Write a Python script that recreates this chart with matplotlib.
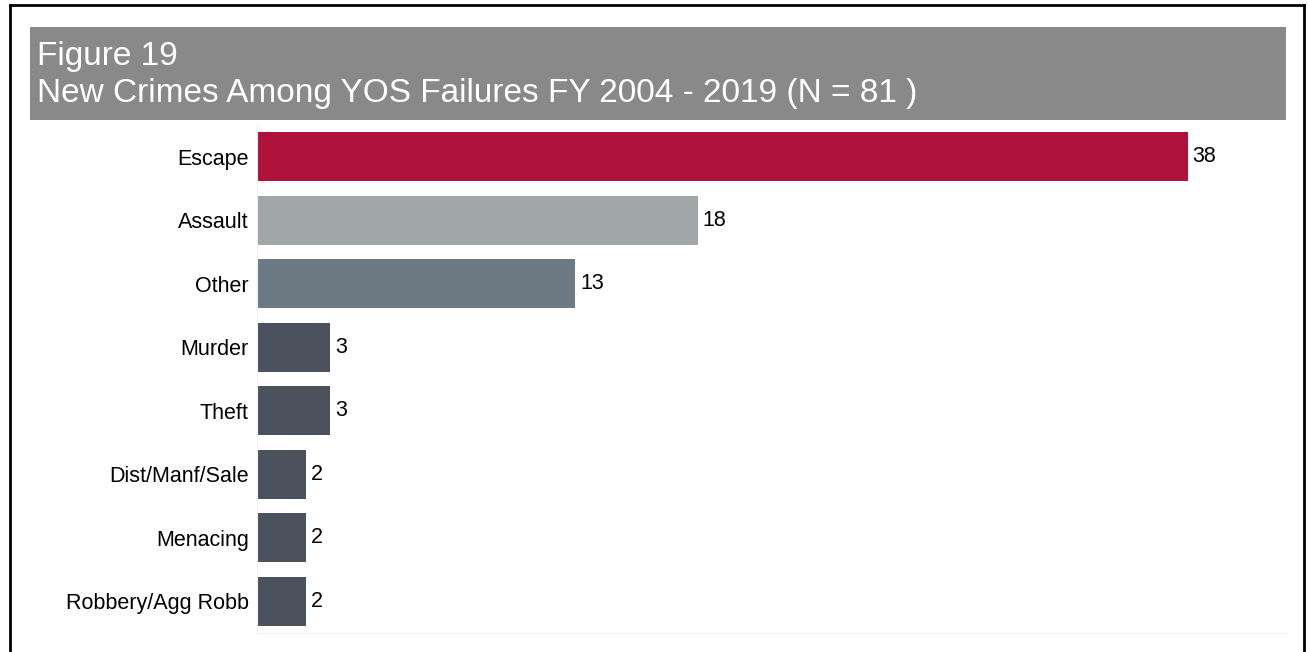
import matplotlib
matplotlib.use("Agg")
import matplotlib.pyplot as plt
from matplotlib.patches import Rectangle
from matplotlib.lines import Line2D

plt.rcParams['font.family'] = ['Liberation Sans', 'DejaVu Sans']

categories = ['Escape', 'Assault', 'Other', 'Murder', 'Theft',
              'Dist/Manf/Sale', 'Menacing', 'Robbery/Agg Robb']
counts = [38, 18, 13, 3, 3, 2, 2, 2]
bar_colors = ['#ae123a', '#a1a6a9', '#6e7a83', '#4b525e',
              '#4b525e', '#4b525e', '#4b525e', '#4b525e']
title_lines = ['Figure 19', 'New Crimes Among YOS Failures FY 2004 - 2019 (N = 81 )']

W, H = 1308, 652
fig = plt.figure(figsize=(W / 100, H / 100), dpi=100)

# outer frame (top, left, right)
fig.add_artist(Line2D([10 / W, 10 / W], [0, 1 - 5 / H], color='black', lw=2))
fig.add_artist(Line2D([10 / W, 1304 / W], [1 - 5 / H, 1 - 5 / H], color='black', lw=2))
fig.add_artist(Line2D([1304 / W, 1304 / W], [0, 1 - 5 / H], color='black', lw=2))

# title band
fig.add_artist(Rectangle((30 / W, 1 - 120 / H), (1286 - 30) / W, (120 - 27) / H,
                         transform=fig.transFigure, color='#898989', lw=0))
fig.text(37 / W, 1 - 65 / H, title_lines[0], color='white', fontsize=24, va='baseline')
fig.text(37 / W, 1 - 102 / H, title_lines[1], color='white', fontsize=24, va='baseline')

ax = fig.add_axes([257 / W, 1 - 633 / H, (1287 - 257) / W, (633 - 125) / H])
y = list(range(len(categories)))
ax.barh(y, counts, height=0.77, color=bar_colors)
for yi, v in zip(y, counts):
    ax.text(v + 0.2, yi, str(v), va='center', ha='left', fontsize=15.5, color='black')

ax.set_xlim(0, 42.05)
ax.set_ylim(len(categories) - 0.5, -0.5)
ax.set_yticks(y)
ax.set_yticklabels(categories, fontsize=15.5)
ax.set_xticks([])
ax.tick_params(axis='y', length=0, pad=6)
for side in ['top', 'right']:
    ax.spines[side].set_visible(False)
ax.spines['left'].set_color('#f0f0f0')
ax.spines['bottom'].set_color('#f0f0f0')

fig.savefig('out.png', dpi=100)
